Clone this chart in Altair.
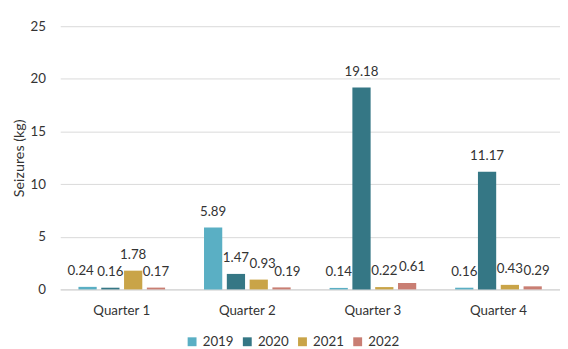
import altair as alt
import pandas as pd

quarters = ["Quarter 1", "Quarter 2", "Quarter 3", "Quarter 4"]
years = ["2019", "2020", "2021", "2022"]
v2019 = [0.24, 5.89, 0.14, 0.16]
v2020 = [0.16, 1.47, 19.18, 11.17]
v2021 = [1.78, 0.93, 0.22, 0.43]
v2022 = [0.17, 0.19, 0.61, 0.29]
colors = ["#5AAFC4", "#357785", "#C9A448", "#C97E73"]
# small horizontal nudges of value labels (px), as in the reference
nudge2019 = [-7, 0, 0, 0]
nudge2020 = [0, 0, 0, 0]
nudge2021 = [0, 4, 0, 0]
nudge2022 = [0, 6, 5, 4]

rows = []
for y, vals, nds in zip(years, [v2019, v2020, v2021, v2022],
                        [nudge2019, nudge2020, nudge2021, nudge2022]):
    for q, v, n in zip(quarters, vals, nds):
        rows.append({"quarter": q, "year": y, "value": v, "label": f"{v:.2f}", "nudge": n})
df = pd.DataFrame(rows)

FONT = "Lato"
FS = 13.5
TXT = "#333333"

base = alt.Chart(df).encode(
    x=alt.X("quarter:N", sort=quarters, title=None,
            scale=alt.Scale(paddingInner=0.31, paddingOuter=0.145),
            axis=alt.Axis(labelAngle=0, ticks=False, domainColor="#d0d0d0",
                          labelFontSize=FS, labelColor=TXT, labelPadding=14,
                          labelFont=FONT)),
    xOffset=alt.XOffset("year:N", sort=years,
                        scale=alt.Scale(paddingInner=0.2, paddingOuter=0)),
    y=alt.Y("value:Q", title="Seizures (kg)",
            scale=alt.Scale(domain=[0, 25]),
            axis=alt.Axis(values=[0, 5, 10, 15, 20, 25], domain=False, ticks=False,
                          gridColor="#d9d9d9", labelFontSize=FS, labelColor=TXT,
                          labelPadding=15, titleFontSize=14.5, titleFontWeight="normal",
                          titleColor=TXT, titleFont=FONT, labelFont=FONT,
                          titlePadding=4)),
)

bars = base.mark_bar().encode(
    color=alt.Color("year:N", sort=years,
                    scale=alt.Scale(domain=years, range=colors),
                    legend=alt.Legend(orient="none", legendX=127, legendY=313,
                                      direction="horizontal", title=None,
                                      symbolType="square", symbolSize=81,
                                      labelFontSize=FS, labelFont=FONT,
                                      labelColor=TXT, columnPadding=7,
                                      labelOffset=4, symbolStrokeWidth=0))
)

layers = [bars]
for n in sorted(df["nudge"].unique()):
    layers.append(
        base.transform_filter(alt.datum.nudge == int(n))
        .mark_text(dy=-12, dx=int(n), baseline="alphabetic", fontSize=FS, font=FONT,
                   color=TXT)
        .encode(text="label:N")
    )

chart = alt.layer(*layers).properties(
    width=507, height=267,
    autosize=alt.AutoSizeParams(type="none"),
    padding={"left": 53, "top": 16, "right": 0, "bottom": 58},
).configure_view(stroke=None)

chart.save("out.html", embed_options={"renderer": "svg", "actions": False})
